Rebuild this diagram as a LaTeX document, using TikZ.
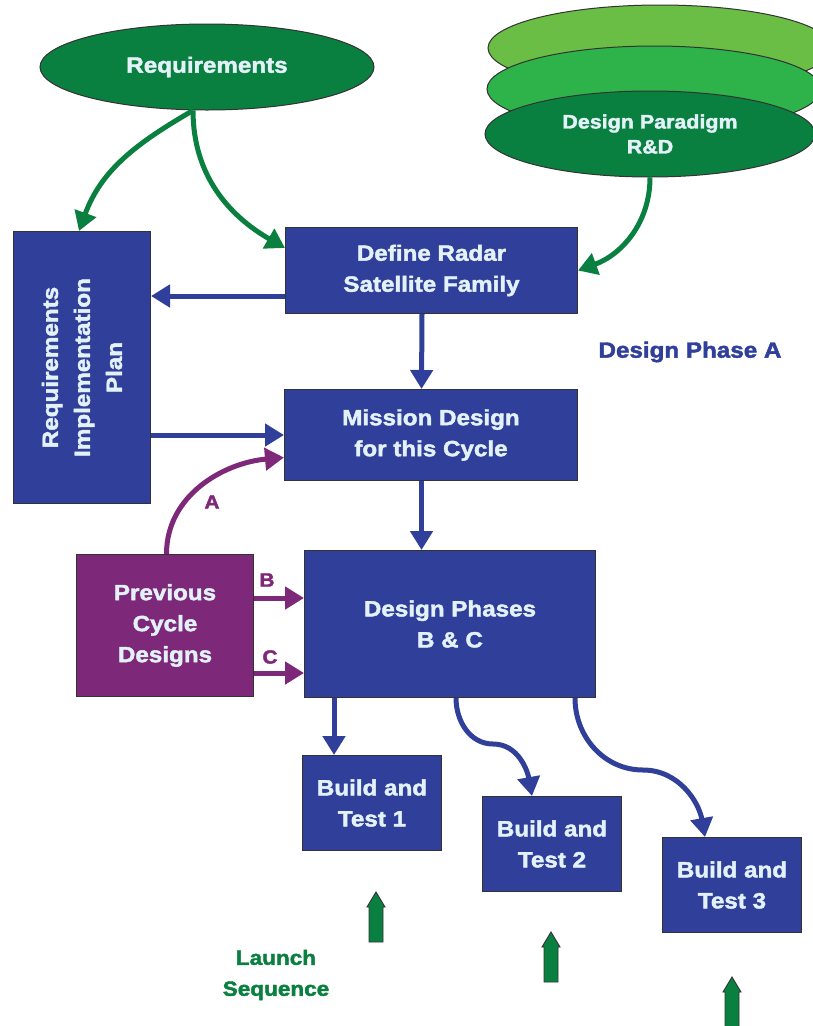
\documentclass[tikz,border=0pt]{standalone}
\usepackage{fontspec}
\setmainfont{Liberation Sans}[BoldFeatures={FakeBold=2,FakeStretch=1.1}]
\usetikzlibrary{shapes.geometric,arrows.meta}
\definecolor{dblue}{HTML}{30409A}
\definecolor{dgreen}{HTML}{0A8040}
\definecolor{mgreen}{HTML}{2DB34A}
\definecolor{lgreen}{HTML}{6ABD45}
\definecolor{purp}{HTML}{7E2879}
\definecolor{txt}{HTML}{E3F1F8}
\begin{document}
\begin{tikzpicture}[x=1pt,y=1pt,
  box/.style={draw=black!80, line width=1pt, fill=dblue, text=txt,
    font=\fontsize{22}{31}\selectfont\bfseries, align=center, inner sep=0pt, anchor=north west},
  oval/.style={ellipse, draw=black!80, line width=1pt, fill=dgreen, text=txt, align=center, inner sep=0pt},
  tiptri/.style={-{Triangle[length=19pt,width=22pt]}},
  garrow/.style={tiptri, draw=dgreen, line width=5pt},
  barrow/.style={tiptri, draw=dblue, line width=5pt},
  parrow/.style={tiptri, draw=purp, line width=5pt},
  plabel/.style={text=purp, font=\fontsize{19}{22}\selectfont\bfseries},
  launch/.pic={\draw[fill=dgreen, draw=black!80, line width=0.9pt]
     (0,0) -- (9,-15) -- (7,-15) -- (7,-50) -- (-7,-50) -- (-7,-15) -- (-9,-15) -- cycle;}
]
\useasboundingbox (0,0) rectangle (813,-1026);
\fill[white] (0,0) rectangle (813,-1026);

% stacked paradigm ellipses
\begin{scope}
\clip (0,0) rectangle (813,-1026);
\node[oval, fill=lgreen, minimum width=344, minimum height=86] (p3) at (660,-48) {};
\node[oval, fill=mgreen, minimum width=334, minimum height=86] (p2) at (654,-89) {};
\node[oval, minimum width=330, minimum height=86, font=\fontsize{19.5}{25}\selectfont\bfseries] (par) at (650,-134) {Design Paradigm\\R\&D};
\end{scope}

\node[oval, minimum width=334, minimum height=86, font=\fontsize{22}{26}\selectfont\bfseries] (req) at (207,-67) {\raisebox{-3pt}{Requirements}};

\node[box, minimum width=137, minimum height=272] (rip) at (13,-231) {};
\node[rotate=90, text=txt, font=\fontsize{22}{32}\selectfont\bfseries, align=center] (riptext) at (rip.center) {Requirements\\Implementation\\Plan};

\node[box, minimum width=292, minimum height=86] (define) at (285,-227) {Define Radar\\Satellite Family};
\node[box, minimum width=293, minimum height=91] (mission) at (284,-389) {Mission Design\\for this Cycle};
\node[box, minimum width=291, minimum height=147] (phases) at (304,-550) {Design Phases\\B \& C};
\node[box, fill=purp, minimum width=177, minimum height=142] (prev) at (76,-554) {Previous\\Cycle\\Designs};

\node[box, minimum width=139, minimum height=95] (bt1) at (302,-755) {Build and\\Test 1};
\node[box, minimum width=139, minimum height=95] (bt2) at (482,-796) {Build and\\Test 2};
\node[box, minimum width=139, minimum height=95] (bt3) at (662,-837) {Build and\\Test 3};

\node[text=dblue, font=\fontsize{22}{24}\selectfont\bfseries] (phaseA) at (690,-352) {Design Phase A};
\node[text=dgreen, font=\fontsize{20.5}{31}\selectfont\bfseries, align=center] (launchlbl) at (276,-975) {Launch\\Sequence};

% green connectors
\draw[garrow] ([xshift=-14pt]req.south) to[out=-150,in=70] ([xshift=-3pt]rip.north);
\draw[garrow] ([xshift=-14pt]req.south) to[out=-90,in=150] ([yshift=-21pt]define.north west);
\draw[garrow] (par.south) to[out=-90,in=20] (define.east);

% blue connectors
\draw[barrow] (define.west |- 0,-296) -- (rip.east |- 0,-296);
\draw[barrow] ([xshift=-9.5pt]define.south) -- ([xshift=-9.5pt]mission.north);
\draw[barrow] (rip.east |- mission.west) -- (mission.west);
\draw[barrow] ([xshift=-9.5pt]mission.south) -- ([xshift=-9.5pt]mission.south |- phases.north);
\draw[barrow] ([xshift=30pt]phases.south west) -- ([xshift=30pt]phases.south west |- bt1.north);
\draw[barrow] ([xshift=152pt]phases.south west) to[out=-90,in=180] (493,-744) to[out=0,in=100] ([xshift=-20pt]bt2.north);
\draw[barrow] ([xshift=271pt]phases.south west) to[out=-90,in=180] (643,-770) to[out=0,in=100] ([xshift=-27pt]bt3.north);

% purple connectors
\draw[parrow] ([xshift=1.5pt]prev.north) to[out=90,in=185] ([yshift=-22.5pt]mission.west);
\draw[parrow] (prev.east |- 0,-598) -- (phases.west |- 0,-598);
\draw[parrow] (prev.east |- 0,-673) -- (phases.west |- 0,-673);
\node[plabel] (la) at (212,-502) {A};
\node[plabel] (lb) at (267,-580) {B};
\node[plabel] (lc) at (270,-657) {C};

% launch arrows
\pic at (376,-892) {launch};
\pic at (551,-932) {launch};
\pic at (732,-977) {launch};
\end{tikzpicture}
\end{document}
